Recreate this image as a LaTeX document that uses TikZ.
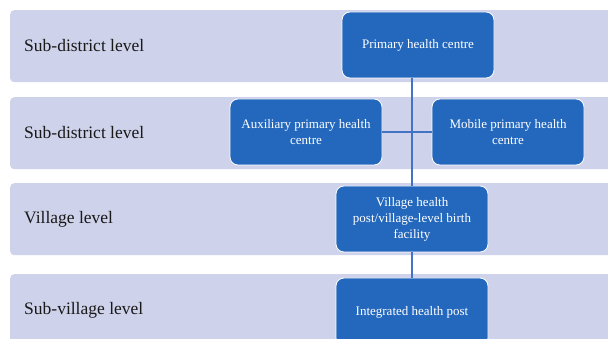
\documentclass[tikz,border=0pt]{standalone}
\usepackage{fontspec}
\setmainfont{Liberation Serif}
\usetikzlibrary{positioning}
\definecolor{bandfill}{RGB}{206,210,234}
\definecolor{boxfill}{RGB}{36,104,190}
\definecolor{linkblue}{RGB}{68,114,196}
\tikzset{
  band/.style={rectangle,fill=bandfill,rounded corners=4pt,anchor=north west,minimum width=640pt,inner sep=0pt},
  lvl/.style={anchor=west,inner sep=0pt,font=\fontsize{17.5}{20}\selectfont,text=black!90},
  unit/.style={rectangle,draw=white,line width=0.8pt,fill=boxfill,rounded corners=8pt,align=center,
    text=white,minimum width=152pt,minimum height=66pt,inner sep=2pt,
    font=\fontsize{13}{16}\selectfont},
  link/.style={draw=linkblue,line width=1.2pt}
}
\begin{document}
\begin{tikzpicture}[x=1pt,y=-1pt]
\clip (0,0) rectangle (608,339);
\fill[white] (0,0) rectangle (608,339);
% level bands
\node[band,minimum height=72pt] (b1) at (10,10) {};
\node[band,minimum height=72pt] (b2) at (10,97) {};
\node[band,minimum height=72pt] (b3) at (10,183) {};
\node[band,minimum height=80pt] (b4) at (10,274) {};
\node[lvl] (l1) at (24,46) {Sub-district level};
\node[lvl] (l2) at (24,133) {Sub-district level};
\node[lvl] (l3) at (24,219) {Village level};
\node[lvl] (l4) at (24,310) {Sub-village level};
% facilities
\node[unit] (phc) at (418,45) {Primary health centre};
\node[unit] (aux) at (306,132) {Auxiliary primary health\\centre};
\node[unit] (mob) at (508,132) {Mobile primary health\\centre};
\node[unit] (vhp) at (412,219) {Village health\\post/village-level birth\\facility};
\node[unit,minimum height=68pt] (ihp) at (412,312) {Integrated health post};
\draw[link] (vhp.north) -- (vhp.north |- phc.south);
\draw[link] (aux.east) -- (mob.west);
\draw[link] (vhp.south) -- (ihp.north);
\end{tikzpicture}
\end{document}
